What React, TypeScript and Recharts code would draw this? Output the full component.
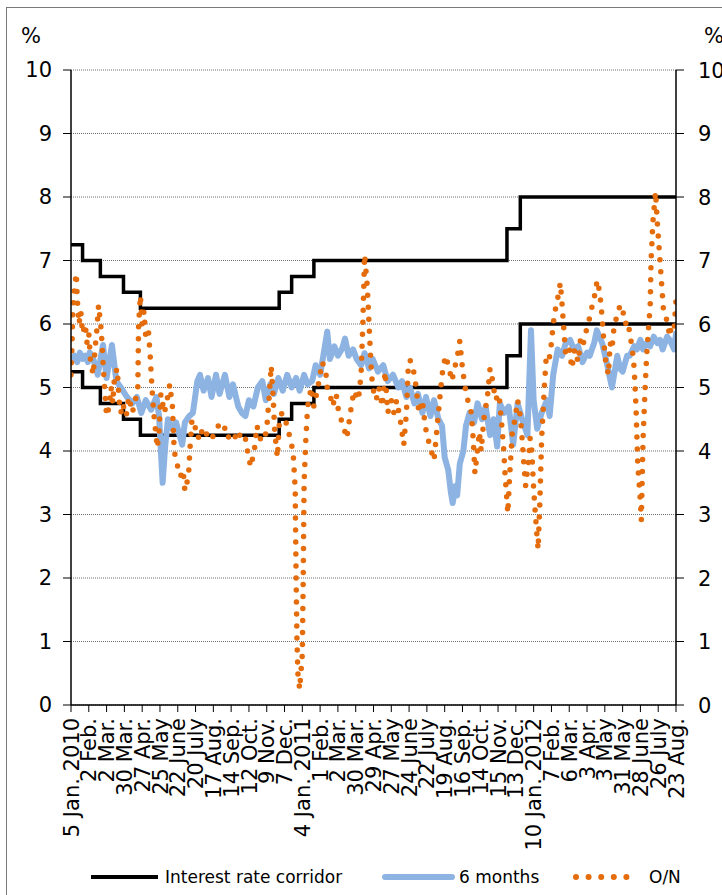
import { CartesianGrid, Line, LineChart, XAxis, YAxis } from 'recharts';

// business-day index of each labelled tick (every 20 days)
const X_TICKS = [0, 20, 40, 60, 80, 100, 120, 140, 160, 180, 200, 220, 240, 260, 280, 300, 320, 340,
  360, 380, 400, 420, 440, 460, 480, 500, 520, 540, 560, 580, 600, 620, 640, 660, 680];
const X_LABELS = [
  '5 Jan. 2010', '2 Feb.', '2 Mar.', '30 Mar.', '27 Apr.', '25 May', '22 June', '20 July', '17 Aug.',
  '14 Sep.', '12 Oct.', '9 Nov.', '7 Dec.',
  '4 Jan. 2011', '1 Feb.', '2 Mar.', '30 Mar.', '29 Apr.', '27 May', '24 June', '22 July', '19 Aug.',
  '16 Sep.', '14 Oct.', '15 Nov.', '13 Dec.',
  '10 Jan. 2012', '7 Feb.', '6 Mar.', '3 Apr.', '3 May', '31 May', '28 June', '26 July', '23 Aug.',
];
const Y_TICKS = [0, 1, 2, 3, 4, 5, 6, 7, 8, 9, 10];

// [day index, %]
const CORRIDOR_UP: [number, number][] = [
  [0, 7.25], [13, 7.0], [33, 6.75], [59, 6.5], [78, 6.25], [234, 6.5], [248, 6.75], [273, 7.0],
  [490, 7.5], [505, 8.0], [680, 8.0],
];
const CORRIDOR_LOW: [number, number][] = [
  [0, 5.25], [13, 5.0], [33, 4.75], [59, 4.5], [78, 4.25], [234, 4.5], [248, 4.75], [273, 5.0],
  [490, 5.5], [505, 6.0], [680, 6.0],
];

const SIX_MONTHS: [number, number][] = [
  [0, 5.45], [4, 5.5], [7, 5.4], [10, 5.55], [13, 5.45], [16, 5.5], [19, 5.4], [21, 5.55], [25, 5.45],
  [30, 5.2], [36, 5.67], [40, 5.15], [46, 5.67], [51, 5.1], [56, 5.0], [63, 4.85], [69, 4.75], [74, 4.85],
  [79, 4.6], [84, 4.8], [90, 4.65], [96, 4.85], [99, 4.55], [101, 4.0], [103, 3.5], [106, 4.1], [109, 4.5],
  [114, 4.35], [118, 4.45], [125, 4.1], [128, 4.45], [133, 4.55], [137, 4.6], [142, 5.1], [145, 5.2],
  [149, 4.95], [154, 5.15], [158, 4.85], [163, 5.2], [167, 4.9], [173, 5.2], [178, 4.85], [182, 5.05],
  [188, 4.7], [192, 4.6], [196, 4.55], [200, 4.8], [205, 4.7], [210, 5.0], [215, 5.1], [219, 4.8],
  [224, 5.05], [228, 4.9], [233, 5.15], [238, 4.95], [243, 5.2], [248, 5.0], [253, 5.15], [257, 4.95],
  [262, 5.2], [266, 5.05], [271, 5.1], [275, 5.35], [280, 5.2], [283, 5.45], [288, 5.88], [291, 5.45],
  [296, 5.65], [300, 5.5], [305, 5.62], [308, 5.77], [312, 5.5], [317, 5.6], [321, 5.45], [326, 5.35],
  [330, 5.54], [335, 5.3], [339, 5.45], [345, 5.25], [351, 5.35], [356, 5.1], [362, 5.2], [368, 5.0],
  [372, 5.1], [377, 4.85], [381, 5.0], [386, 4.75], [390, 4.9], [395, 4.6], [399, 4.85], [404, 4.55],
  [408, 4.8], [413, 4.5], [417, 4.4], [420, 3.9], [424, 3.7], [427, 3.35], [429, 3.18], [432, 3.45],
  [434, 3.3], [437, 3.8], [441, 4.0], [444, 4.4], [448, 4.6], [453, 4.45], [457, 4.75], [462, 4.5],
  [466, 4.7], [471, 4.25], [475, 4.5], [479, 4.07], [482, 4.75], [487, 4.6], [492, 4.7], [497, 4.1],
  [502, 4.75], [507, 4.5], [513, 4.25], [517, 5.9], [520, 4.8], [524, 4.35], [529, 4.6], [535, 4.8],
  [538, 4.55], [542, 5.2], [547, 5.6], [552, 5.5], [556, 5.7], [561, 5.75], [565, 5.6], [570, 5.65],
  [575, 5.4], [580, 5.55], [583, 5.5], [588, 5.7], [591, 5.9], [597, 5.7], [602, 5.4], [608, 5.0],
  [614, 5.5], [617, 5.3], [620, 5.25], [625, 5.5], [628, 5.5], [633, 5.65], [636, 5.6], [640, 5.75],
  [643, 5.6], [647, 5.7], [651, 5.65], [655, 5.8], [659, 5.7], [662, 5.75], [665, 5.6], [670, 5.8],
  [673, 5.75], [678, 5.6], [680, 5.85],
];

const OVERNIGHT: [number, number][] = [
  [0, 5.2], [1, 5.6], [2, 6.2], [4, 6.6], [6, 6.8], [7, 6.4], [9, 6.0], [11, 6.2], [13, 5.85], [16, 6.0],
  [18, 5.7], [20, 5.85], [22, 5.4], [25, 5.2], [27, 5.6], [29, 5.9], [31, 6.3], [34, 5.9], [36, 5.4],
  [38, 4.95], [40, 4.55], [43, 4.7], [45, 5.0], [47, 4.75], [49, 5.2], [52, 5.3], [54, 4.8], [56, 4.6],
  [58, 4.75], [62, 4.55], [65, 4.85], [69, 4.6], [72, 4.8], [75, 4.9], [76, 6.0], [78, 6.45], [80, 6.0],
  [82, 6.2], [84, 5.8], [87, 5.9], [89, 5.5], [91, 5.0], [93, 4.6], [97, 4.05], [99, 4.3], [101, 4.9],
  [105, 4.6], [108, 4.8], [111, 5.05], [114, 4.7], [116, 4.0], [119, 3.8], [123, 3.6], [126, 3.7],
  [128, 3.37], [132, 3.6], [134, 4.1], [136, 4.5], [139, 4.4], [143, 4.2], [146, 4.35], [149, 4.2],
  [154, 4.3], [158, 4.2], [163, 4.3], [167, 4.45], [172, 4.4], [176, 4.2], [182, 4.3], [187, 4.15],
  [191, 4.3], [196, 4.2], [199, 3.95], [202, 3.75], [206, 4.0], [209, 4.4], [212, 4.2], [217, 4.15],
  [220, 4.35], [223, 4.9], [225, 5.34], [227, 4.9], [229, 4.3], [232, 3.9], [234, 4.4], [237, 4.6],
  [241, 4.5], [244, 4.3], [247, 4.2], [250, 3.9], [252, 3.4], [253, 2.0], [254, 1.0], [255, 0.5],
  [257, 0.25], [260, 0.8], [261, 2.0], [262, 3.5], [264, 4.2], [266, 4.7], [270, 5.0], [273, 4.7],
  [276, 4.9], [280, 5.2], [282, 5.4], [286, 5.3], [288, 5.0], [291, 4.9], [294, 4.7], [298, 4.9],
  [301, 4.6], [306, 4.4], [310, 4.2], [314, 4.6], [318, 4.95], [323, 4.8], [326, 5.2], [328, 6.0],
  [330, 7.09], [333, 6.6], [335, 6.0], [337, 5.4], [339, 5.0], [343, 4.8], [346, 5.0], [350, 4.7],
  [353, 5.25], [356, 4.6], [360, 4.8], [363, 4.6], [366, 4.8], [370, 4.5], [372, 4.3], [374, 4.1],
  [377, 4.6], [379, 5.3], [381, 5.43], [384, 5.35], [388, 5.0], [391, 4.6], [395, 4.8], [398, 4.4],
  [401, 4.2], [405, 4.0], [408, 3.85], [411, 4.3], [415, 4.9], [418, 5.3], [421, 5.5], [425, 5.3],
  [428, 5.1], [432, 5.35], [435, 5.55], [437, 5.73], [440, 5.3], [443, 5.0], [446, 4.8], [450, 4.6],
  [452, 4.2], [454, 3.65], [456, 3.9], [459, 4.3], [461, 4.0], [464, 4.5], [468, 4.85], [471, 5.3],
  [474, 5.1], [477, 4.8], [481, 4.9], [483, 4.6], [486, 4.1], [488, 3.6], [491, 3.02], [493, 3.6],
  [496, 4.3], [499, 4.5], [502, 4.8], [505, 4.55], [507, 4.2], [509, 3.8], [511, 3.45], [514, 3.8],
  [516, 4.2], [518, 4.0], [520, 3.4], [523, 2.8], [525, 2.45], [527, 3.2], [529, 4.2], [532, 5.0],
  [534, 5.45], [537, 5.4], [540, 5.7], [542, 6.0], [544, 6.2], [547, 6.4], [550, 6.65], [552, 6.3],
  [554, 5.9], [556, 5.5], [560, 5.6], [563, 5.3], [566, 5.6], [570, 5.4], [573, 5.8], [576, 5.7],
  [580, 5.95], [583, 6.1], [586, 6.3], [588, 6.4], [590, 6.6], [592, 6.69], [595, 6.4], [597, 6.1],
  [599, 5.7], [601, 5.4], [604, 5.2], [606, 5.7], [608, 5.6], [610, 5.9], [613, 6.1], [616, 6.25],
  [619, 6.3], [623, 6.0], [626, 6.05], [628, 5.85], [631, 5.6], [633, 5.3], [635, 4.7], [637, 3.8],
  [640, 3.2], [641, 2.91], [643, 4.2], [645, 4.9], [647, 5.5], [649, 5.9], [651, 6.3], [652, 7.0],
  [654, 7.6], [657, 8.08], [659, 7.6], [662, 7.0], [664, 6.6], [666, 6.2], [670, 6.05], [673, 5.8],
  [675, 6.0], [678, 5.95], [680, 6.38],
];

const toRows = (pts: [number, number][]) => pts.map(([i, v]) => ({ i, v }));

const FONT = '"DejaVu Sans", Verdana, sans-serif';
const BLACK = '#000000';
const BLUE = '#8DB3E2';
const ORANGE = '#E46C0A';

const XTick = ({ x, y, payload }: any) => {
  const label = X_LABELS[X_TICKS.indexOf(payload.value)] ?? '';
  return (
    <g transform={`translate(${x},${y})`}>
      <text transform="rotate(-90)" x={-4} y={0} dy="0.36em" textAnchor="end" fontSize={21} fontFamily={FONT} fill="#000">
        {label}
      </text>
    </g>
  );
};

const RightTick = ({ x, y, payload }: any) => (
  <text x={x} y={y} dy="0.36em" textAnchor="start" fontSize={21} fontFamily={FONT} fill="#000">
    {payload.value}
  </text>
);

export default function App() {
  return (
    <div style={{ position: 'absolute', left: 0, top: 0, width: 722, height: 895, overflow: 'hidden', background: '#fff', fontFamily: FONT }}>
      <div style={{ position: 'absolute', left: 6, top: 7, width: 780, height: 960, border: '1px solid #7a7a7a' }} />
      <div style={{ position: 'absolute', left: 21, top: 24, fontSize: 21, color: '#000' }}>%</div>
      <div style={{ position: 'absolute', left: 704, top: 24, fontSize: 21, color: '#000' }}>%</div>
      <div style={{ position: 'absolute', left: 0, top: 0 }}>
        <LineChart width={722} height={895} margin={{ top: 70, right: 0, bottom: 40, left: 0 }}>
          <CartesianGrid yAxisId="left" vertical={false} stroke="#6f6f6f" strokeDasharray="1 1" />
          <XAxis
            type="number"
            dataKey="i"
            domain={[0, 680]}
            ticks={X_TICKS}
            interval={0}
            allowDataOverflow
            height={150}
            tickSize={7}
            tickMargin={2}
            tick={<XTick />}
            tickLine={{ stroke: BLACK }}
            axisLine={{ stroke: BLACK, strokeWidth: 1.5 }}
          />
          <YAxis
            yAxisId="left"
            domain={[0, 10]}
            ticks={Y_TICKS}
            interval={0}
            width={71}
            tickSize={8}
            tickMargin={11}
            tick={{ fontSize: 21, fill: '#000', fontFamily: FONT }}
            tickLine={{ stroke: BLACK }}
            axisLine={{ stroke: BLACK, strokeWidth: 1.5 }}
          />
          <YAxis
            yAxisId="right"
            orientation="right"
            domain={[0, 10]}
            ticks={Y_TICKS}
            interval={0}
            width={46}
            tickSize={8}
            tickMargin={14}
            tick={<RightTick />}
            tickLine={{ stroke: BLACK }}
            axisLine={{ stroke: BLACK, strokeWidth: 1.5 }}
          />
          <Line yAxisId="right" data={toRows(CORRIDOR_UP)} dataKey="v" type="stepAfter" stroke={BLACK} strokeWidth={3.5}
            dot={false} activeDot={false} isAnimationActive={false} name="Interest rate corridor" />
          <Line yAxisId="left" data={toRows(CORRIDOR_LOW)} dataKey="v" type="stepAfter" stroke={BLACK} strokeWidth={3.5}
            dot={false} activeDot={false} isAnimationActive={false} name="Interest rate corridor (low)" />
          <Line yAxisId="left" data={toRows(SIX_MONTHS)} dataKey="v" type="linear" stroke={BLUE} strokeWidth={6}
            strokeLinejoin="round" strokeLinecap="round" dot={false} activeDot={false} isAnimationActive={false} name="6 months" />
          <Line yAxisId="left" data={toRows(OVERNIGHT)} dataKey="v" type="linear" stroke={ORANGE} strokeWidth={5.5}
            strokeDasharray="0 12" strokeLinecap="round" dot={false} activeDot={false} isAnimationActive={false} name="O/N" />
        </LineChart>
      </div>
      <div style={{ position: 'absolute', left: 0, top: 866, width: 722, height: 24, fontSize: 17, color: '#000' }}>
        <svg width={722} height={24} style={{ position: 'absolute', left: 0, top: 0 }}>
          <line x1={91} y1={11} x2={158} y2={11} stroke={BLACK} strokeWidth={4} />
          <line x1={385} y1={11} x2={452} y2={11} stroke={BLUE} strokeWidth={6} strokeLinecap="round" />
          <line x1={576} y1={11} x2={639} y2={11} stroke={ORANGE} strokeWidth={6} strokeDasharray="0 12.6" strokeLinecap="round" />
        </svg>
        <span style={{ position: 'absolute', left: 165, top: 0, lineHeight: '22px' }}>Interest rate corridor</span>
        <span style={{ position: 'absolute', left: 459, top: 0, lineHeight: '22px' }}>6 months</span>
        <span style={{ position: 'absolute', left: 649, top: 0, lineHeight: '22px' }}>O/N</span>
      </div>
    </div>
  );
}
